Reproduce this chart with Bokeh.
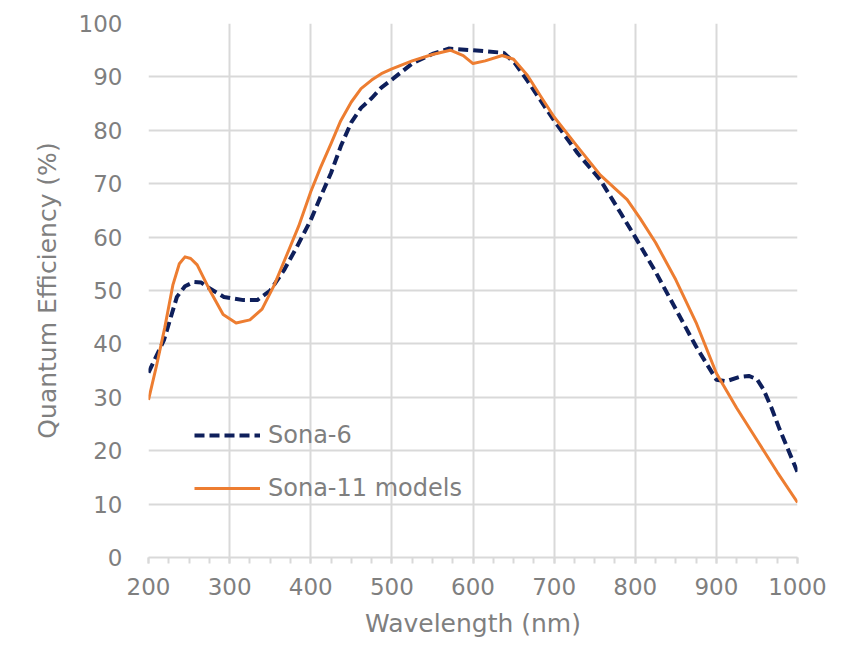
from bokeh.plotting import figure
from bokeh.models import Legend, LegendItem, FixedTicker
from bokeh.embed import file_html
from bokeh.resources import INLINE

# Data
sona6_wl = [200, 219, 235, 245, 256, 265, 272, 293, 317, 334, 350, 367, 383, 400, 412, 425,
            437, 450, 462, 475, 487, 500, 525, 550, 570, 600, 638, 652, 667, 700, 729, 757,
            782, 800, 825, 850, 875, 900, 912, 928, 940, 950, 958, 968, 978, 989, 1000]
sona6_qe = [34.6, 40.7, 48.8, 50.8, 51.6, 51.5, 50.7, 48.8, 48.2, 48.2, 50.0, 53.8, 58.2, 63.2,
            67.5, 72.0, 77.0, 81.5, 84.2, 86.0, 88.0, 89.5, 92.5, 94.3, 95.3, 95.0, 94.5, 92.5,
            89.3, 81.8, 75.7, 70.7, 64.5, 60.0, 53.5, 46.5, 39.5, 33.3, 33.0, 33.8, 34.0, 33.4,
            31.5, 28.0, 24.0, 20.0, 16.0]

sona11_wl = [200, 210, 220, 230, 238, 245, 252, 260, 275, 292, 308, 325, 340, 355, 370, 385,
             400, 412, 425, 437, 450, 462, 475, 487, 500, 525, 550, 572, 588, 600, 615, 636,
             650, 667, 685, 700, 729, 757, 790, 806, 825, 850, 875, 900, 925, 950, 975, 1000]
sona11_qe = [29.5, 36.0, 43.0, 51.0, 55.0, 56.3, 56.0, 54.8, 50.2, 45.5, 43.9, 44.5, 46.5, 51.0,
             56.5, 62.0, 68.5, 73.0, 77.5, 81.8, 85.3, 87.8, 89.4, 90.6, 91.5, 93.0, 94.2, 95.0,
             94.0, 92.5, 93.0, 94.0, 93.3, 90.3, 86.0, 82.5, 76.9, 71.6, 67.0, 63.5, 59.0, 52.0,
             44.0, 34.5, 28.0, 22.0, 16.0, 10.3]

x_ticks = [200, 300, 400, 500, 600, 700, 800, 900, 1000]
y_ticks = [0, 10, 20, 30, 40, 50, 60, 70, 80, 90, 100]
labels = ["Sona-6", "Sona-11 models"]

FONT = "DejaVu Sans"
TEXT = "#7f7f7f"
GRID = "#d9d9d9"

p = figure(width=838, height=640, x_range=(200, 1000), y_range=(0, 100),
           output_backend="svg", toolbar_location=None,
           min_border_left=148, min_border_right=41, min_border_top=23, min_border_bottom=82)
p.outline_line_color = None

r1 = p.line(sona6_wl, sona6_qe, line_color="#0e1f5b", line_width=4, line_dash="10 5",
            line_join="round")
r2 = p.line(sona11_wl, sona11_qe, line_color="#ED7D31", line_width=3, line_join="round")

# Grid
p.xgrid.ticker = FixedTicker(ticks=x_ticks)
p.ygrid.ticker = FixedTicker(ticks=y_ticks)
for g in (p.xgrid, p.ygrid):
    g.grid_line_color = GRID
    g.grid_line_width = 2

# X axis
xa = p.xaxis[0]
xa.ticker = FixedTicker(ticks=x_ticks, minor_ticks=list(range(200, 1001, 25)))
xa.axis_line_color = GRID
xa.axis_line_width = 2
xa.major_tick_line_color = GRID
xa.major_tick_line_width = 2
xa.major_tick_out = 6
xa.major_tick_in = 0
xa.minor_tick_line_color = GRID
xa.minor_tick_line_width = 2
xa.minor_tick_out = 6
xa.minor_tick_in = 0
xa.major_label_standoff = 14
xa.major_label_text_font = FONT
xa.major_label_text_font_size = "23px"
xa.major_label_text_color = TEXT
xa.axis_label = "Wavelength (nm)"
xa.axis_label_text_font = FONT
xa.axis_label_text_font_size = "25px"
xa.axis_label_text_font_style = "normal"
xa.axis_label_text_color = TEXT
xa.axis_label_standoff = 11

# Y axis
ya = p.yaxis[0]
ya.ticker = FixedTicker(ticks=y_ticks)
ya.axis_line_color = None
ya.major_tick_line_color = None
ya.minor_tick_line_color = None
ya.major_label_standoff = 20
ya.major_label_text_font = FONT
ya.major_label_text_font_size = "23px"
ya.major_label_text_color = TEXT
ya.axis_label = "Quantum Efficiency (%)"
ya.axis_label_text_font = FONT
ya.axis_label_text_font_size = "25px"
ya.axis_label_text_font_style = "normal"
ya.axis_label_text_color = TEXT
ya.axis_label_standoff = 14

legend = Legend(items=[LegendItem(label=labels[0], renderers=[r1]),
                       LegendItem(label=labels[1], renderers=[r2])],
                location=(46, 55), orientation="vertical",
                padding=0, margin=0, spacing=25,
                glyph_width=66, glyph_height=22, label_height=22, label_standoff=8,
                border_line_color=None, background_fill_alpha=0,
                label_text_font=FONT, label_text_font_size="24px", label_text_color=TEXT)
p.add_layout(legend)

open("out.html", "w").write(file_html(p, INLINE))
